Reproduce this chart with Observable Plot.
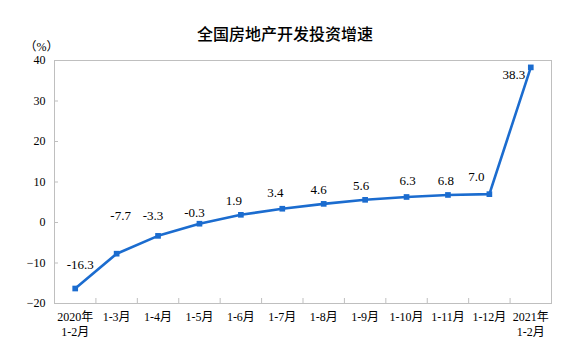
<!DOCTYPE html>
<html>
<head>
<meta charset="utf-8">
<script src="https://cdn.jsdelivr.net/npm/d3@7"></script>
<script src="https://cdn.jsdelivr.net/npm/@observablehq/plot@0.6"></script>
<style>
  html, body { margin: 0; padding: 0; background: #fff; }
  #wrap { width: 580px; height: 358px; overflow: hidden; }
  #title { height: 40px; box-sizing: border-box; padding-top: 25px; text-align: center;
    font-family: "Noto Sans CJK SC", sans-serif; font-size: 16px; line-height: 16px; font-weight: 500; color: #000; padding-right: 10px; }
  svg { display: block; }
  svg text { font-family: "Liberation Serif", "Times New Roman", "Noto Sans CJK SC", serif; }
  svg text.unit { font-family: "Noto Sans CJK SC", sans-serif; }
</style>
</head>
<body>
<div id="wrap">
  <div id="title">全国房地产开发投资增速</div>
  <div id="chart"></div>
</div>
<script>
const categories = ["2020年\n1-2月", "1-3月", "1-4月", "1-5月", "1-6月", "1-7月", "1-8月", "1-9月", "1-10月", "1-11月", "1-12月", "2021年\n1-2月"];
const values = [-16.3, -7.7, -3.3, -0.3, 1.9, 3.4, 4.6, 5.6, 6.3, 6.8, 7.0, 38.3];
const yTicks = [40, 30, 20, 10, 0, -10, -20];
const unitLabel = "（%）";

const data = values.map((v, i) => ({i, v, label: v.toFixed(1)}));

// label offsets (px) relative to each point
const offsets = [[5,-24],[4,-38],[-5,-20],[-5,-11],[-7,-14],[-7,-16],[-5,-14],[-4,-14],[1,-16],[-2,-14],[-13,-17],[-17,7]];

const lineColor = "#1b6ccf";
const gridGray = "#bfbfbf";
const serif = "'Liberation Serif', 'Times New Roman', 'Noto Sans CJK SC', serif";

const boundaries = d3.range(categories.length - 1).map(k => k + 0.5);
const blank = () => "";

const chart = Plot.plot({
  width: 580,
  height: 318,
  marginTop: 20,
  marginBottom: 55,
  marginLeft: 54,
  marginRight: 29,
  style: {fontFamily: serif, fontSize: "12px", color: "#000", background: "#fff"},
  x: {type: "linear", domain: [-0.5, categories.length - 0.5]},
  y: {domain: [-20, 40]},
  marks: [
    Plot.frame({stroke: gridGray}),
    Plot.axisY({ticks: yTicks, tickSize: 0, tickPadding: 9, label: null, fontSize: 12, fontFamily: serif}),
    Plot.axisY({ticks: yTicks.slice(1, -1), tickSize: 4, dx: 4, tickFormat: blank, stroke: gridGray, label: null}),
    Plot.axisX({ticks: d3.range(categories.length), tickSize: 0, tickPadding: 8, tickFormat: i => categories[i], label: null, lineHeight: 1.17, fontSize: 12, fontFamily: serif}),
    Plot.axisX({ticks: boundaries, tickSize: 5, dy: -5, tickFormat: blank, stroke: gridGray, label: null}),
    Plot.line(data, {x: "i", y: "v", stroke: lineColor, strokeWidth: 2.6}),
    Plot.dot(data, {x: "i", y: "v", symbol: "square", r: 3.2, fill: lineColor, stroke: "none"}),
    ...data.map((d, k) => Plot.text([d], {x: "i", y: "v", text: "label", dx: offsets[k][0], dy: offsets[k][1], fontSize: 13, fill: "#000", fontFamily: serif})),
    Plot.text([unitLabel], {frameAnchor: "top-left", textAnchor: "middle", lineAnchor: "middle", dx: -13, dy: -13, fontSize: 12, fill: "#000", className: "unit"})
  ]
});
document.getElementById("chart").appendChild(chart);
</script>
</body>
</html>
